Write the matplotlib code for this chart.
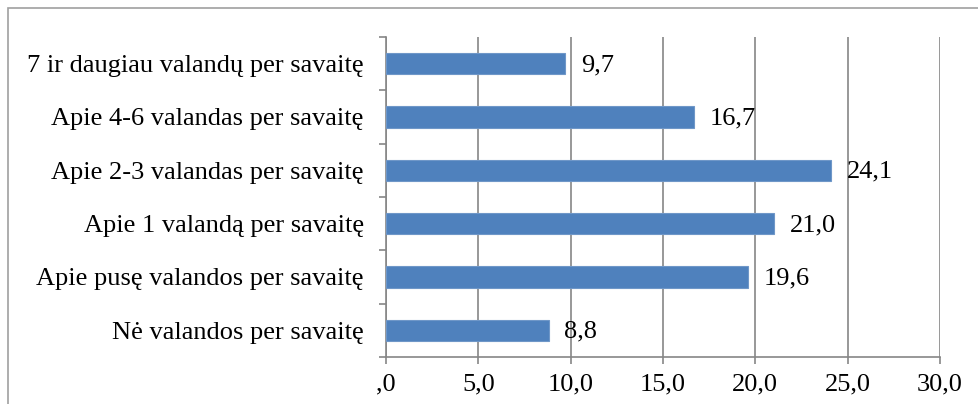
import numpy as np
import matplotlib.pyplot as plt
from matplotlib.patches import Rectangle

categories = ["Nė valandos per savaitę",
              "Apie pusę valandos per savaitę",
              "Apie 1 valandą per savaitę",
              "Apie 2-3 valandas per savaitę",
              "Apie 4-6 valandas per savaitę",
              "7 ir daugiau valandų per savaitę"]
values = [8.8, 19.6, 21.0, 24.1, 16.7, 9.7]
xticks = [0, 5, 10, 15, 20, 25, 30]
xticklabels = [",0", "5,0", "10,0", "15,0", "20,0", "25,0", "30,0"]

plt.rcParams['font.family'] = ['Liberation Serif', 'DejaVu Serif']
fs = 19
grey = '#868686'

fig = plt.figure(figsize=(9.79, 4.04), dpi=100)
ax = fig.add_axes([386 / 979, 1 - 357 / 404, (940 - 386) / 979, (357 - 37) / 404])

# chart border
fig.patches.append(Rectangle((8 / 979, -0.1), 1.2, 1 - 8 / 404 + 0.1,
                             transform=fig.transFigure, fill=False,
                             edgecolor='#a0a0a0', linewidth=1.2))

y = np.arange(len(categories))
ax.barh(y, values, height=0.4, color='#4f81bd', edgecolor='#6f97c8',
        linewidth=0.8, zorder=3)
for yi, v in zip(y, values):
    ax.text(v + 0.85, yi - 0.03, f"{v:.1f}".replace('.', ','), va='center', ha='left',
            fontsize=fs, zorder=4)

ax.set_xlim(0, 30)
ax.set_ylim(-0.5, len(categories) - 0.5)
ax.set_xticks(xticks)
ax.set_xticklabels(xticklabels, fontsize=fs)
ax.set_yticks(y)
ax.set_yticklabels(categories, fontsize=fs)
ax.set_yticks(np.arange(-0.5, len(categories)), minor=True)
ax.tick_params(axis='y', which='major', length=0, pad=16)
ax.tick_params(axis='y', which='minor', length=5, color=grey, width=1.2)
ax.tick_params(axis='x', length=5, color=grey, width=1.2, pad=7)

ax.grid(axis='x', color=grey, linewidth=1.2, zorder=0)
for s in ['top', 'right']:
    ax.spines[s].set_visible(False)
for s in ['left', 'bottom']:
    ax.spines[s].set_color(grey)
    ax.spines[s].set_linewidth(1.2)

fig.savefig('out.png', dpi=100)
